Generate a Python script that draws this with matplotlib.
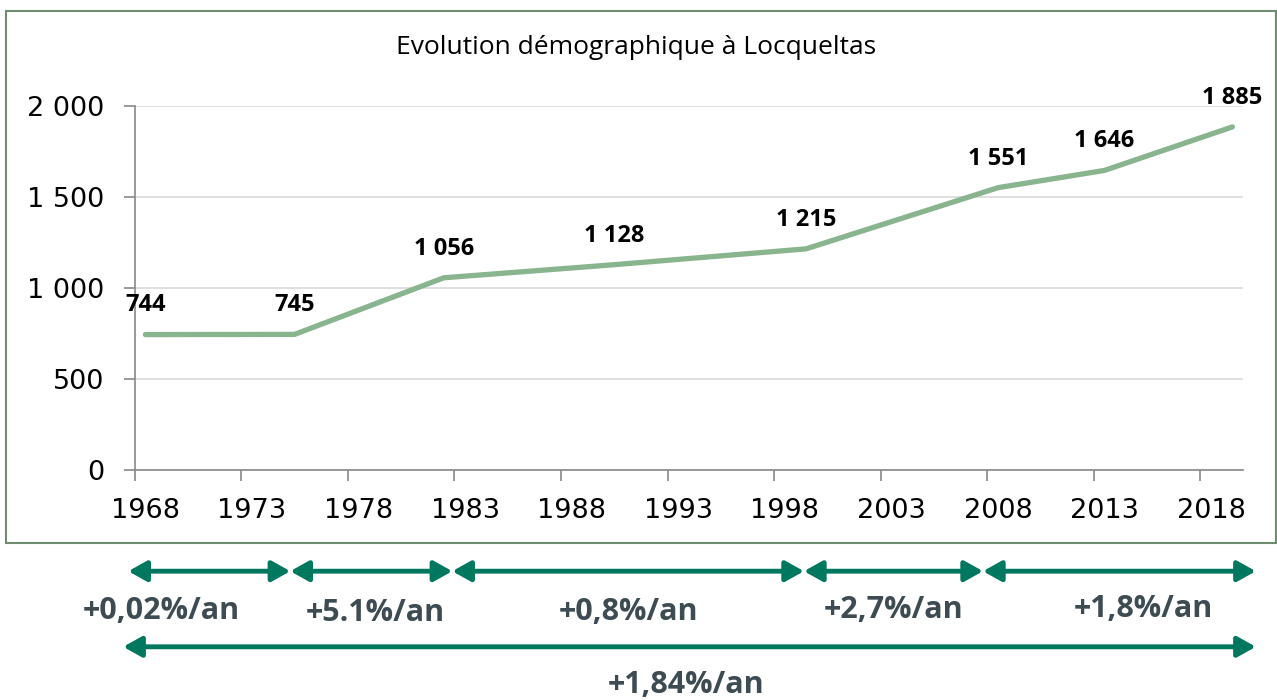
import matplotlib
matplotlib.use("Agg")
import matplotlib.pyplot as plt
from matplotlib.patches import Rectangle, FancyArrowPatch
from matplotlib.ticker import FuncFormatter

# census years and population
years = [1968, 1975, 1982, 1990, 1999, 2008, 2013, 2019]
population = [744, 745, 1056, 1128, 1215, 1551, 1646, 1885]
label_texts = ["744", "745", "1 056", "1 128", "1 215", "1 551", "1 646", "1 885"]

tick_years = [1968, 1973, 1978, 1983, 1988, 1993, 1998, 2003, 2008, 2013, 2018]

# annual growth rates per period
period_bounds = [1967.7, 1975.3, 1982.9, 1999.4, 2007.8, 2020.6]
period_rates = ["+0,02%/an", "+5.1%/an", "+0,8%/an", "+2,7%/an", "+1,8%/an"]
total_rate = "+1,84%/an"
rate_text_x = [0.126, 0.294, 0.4925, 0.700, 0.895]
rate_text_y = [0.127, 0.124, 0.125, 0.128, 0.130]

line_color = "#88b48e"
arrow_color = "#00775f"
rate_color = "#3d4b52"

fig = plt.figure(figsize=(12.77, 7.0), dpi=100)
ax = fig.add_axes([0.1055, 0.3286, 0.8679, 0.52])

# each year occupies one slot, points drawn at slot centre
ax.plot([y + 0.5 for y in years], population, color=line_color, lw=3.8,
        solid_capstyle="round", solid_joinstyle="round", zorder=3)
for y, v, t in zip(years, population, label_texts):
    ax.annotate(t, (y + 0.5, v), xytext=(0, 21), textcoords="offset points",
                ha="center", va="center", fontsize=17, fontweight="bold",
                family="Open Sans", color="black", annotation_clip=False)

ax.set_xlim(1968, 2020)
ax.set_ylim(0, 2000)
ax.set_yticks([0, 500, 1000, 1500, 2000])
ax.yaxis.set_major_formatter(FuncFormatter(lambda v, p: f"{int(v):,}".replace(",", " ")))
ax.set_xticks(tick_years)
ax.set_xticklabels([])
ax.set_xticks([y + 0.5 for y in tick_years], minor=True)
ax.set_xticklabels([str(y) for y in tick_years], minor=True)
ax.tick_params(axis="x", which="minor", length=0, pad=20, labelsize=19.5)
ax.tick_params(axis="x", which="major", length=8, color="#898989", width=1.2)
ax.tick_params(axis="y", length=8, color="#898989", width=1.2, pad=14, labelsize=19.5)

ax.grid(axis="y", color="#d9d9d9", lw=1.2)
ax.set_axisbelow(True)
for s in ["top", "right"]:
    ax.spines[s].set_visible(False)
for s in ["left", "bottom"]:
    ax.spines[s].set_color("#898989")
    ax.spines[s].set_linewidth(1.2)

fig.text(0.498, 0.932, "Evolution démographique à Locqueltas", ha="center",
         va="center", fontsize=19, family="Open Sans")

# chart frame
fig.add_artist(Rectangle((0.005, 0.224), 0.994, 0.76, transform=fig.transFigure,
                         fill=False, ec="#6f8c70", lw=1.5))

# growth rate arrows under the chart
data_to_fig = lambda x: fig.transFigure.inverted().transform(ax.transData.transform((x, 0)))[0]
arrow_style = "<|-|>,head_length=5,head_width=2.8"
row1_y, row2_y = 0.184, 0.076
for (x0, x1), txt, tx, ty in zip(zip(period_bounds[:-1], period_bounds[1:]), period_rates,
                                 rate_text_x, rate_text_y):
    f0, f1 = data_to_fig(x0), data_to_fig(x1)
    fig.add_artist(FancyArrowPatch((f0, row1_y), (f1, row1_y), transform=fig.transFigure,
                                   arrowstyle=arrow_style, color=arrow_color, lw=3.5,
                                   shrinkA=0, shrinkB=0, mutation_scale=2.2))
    fig.text(tx, ty, txt, ha="center", va="center", fontsize=22,
             fontweight="bold", family="Open Sans", color=rate_color)

f0, f1 = data_to_fig(period_bounds[0]), data_to_fig(period_bounds[-1])
fig.add_artist(FancyArrowPatch((f0 - 0.004, row2_y), (f1, row2_y), transform=fig.transFigure,
                               arrowstyle=arrow_style, color=arrow_color, lw=3.5,
                               shrinkA=0, shrinkB=0, mutation_scale=2.2))
fig.text(0.537, 0.022, total_rate, ha="center", va="center", fontsize=22,
         fontweight="bold", family="Open Sans", color=rate_color)

fig.savefig("out.png", dpi=100)
